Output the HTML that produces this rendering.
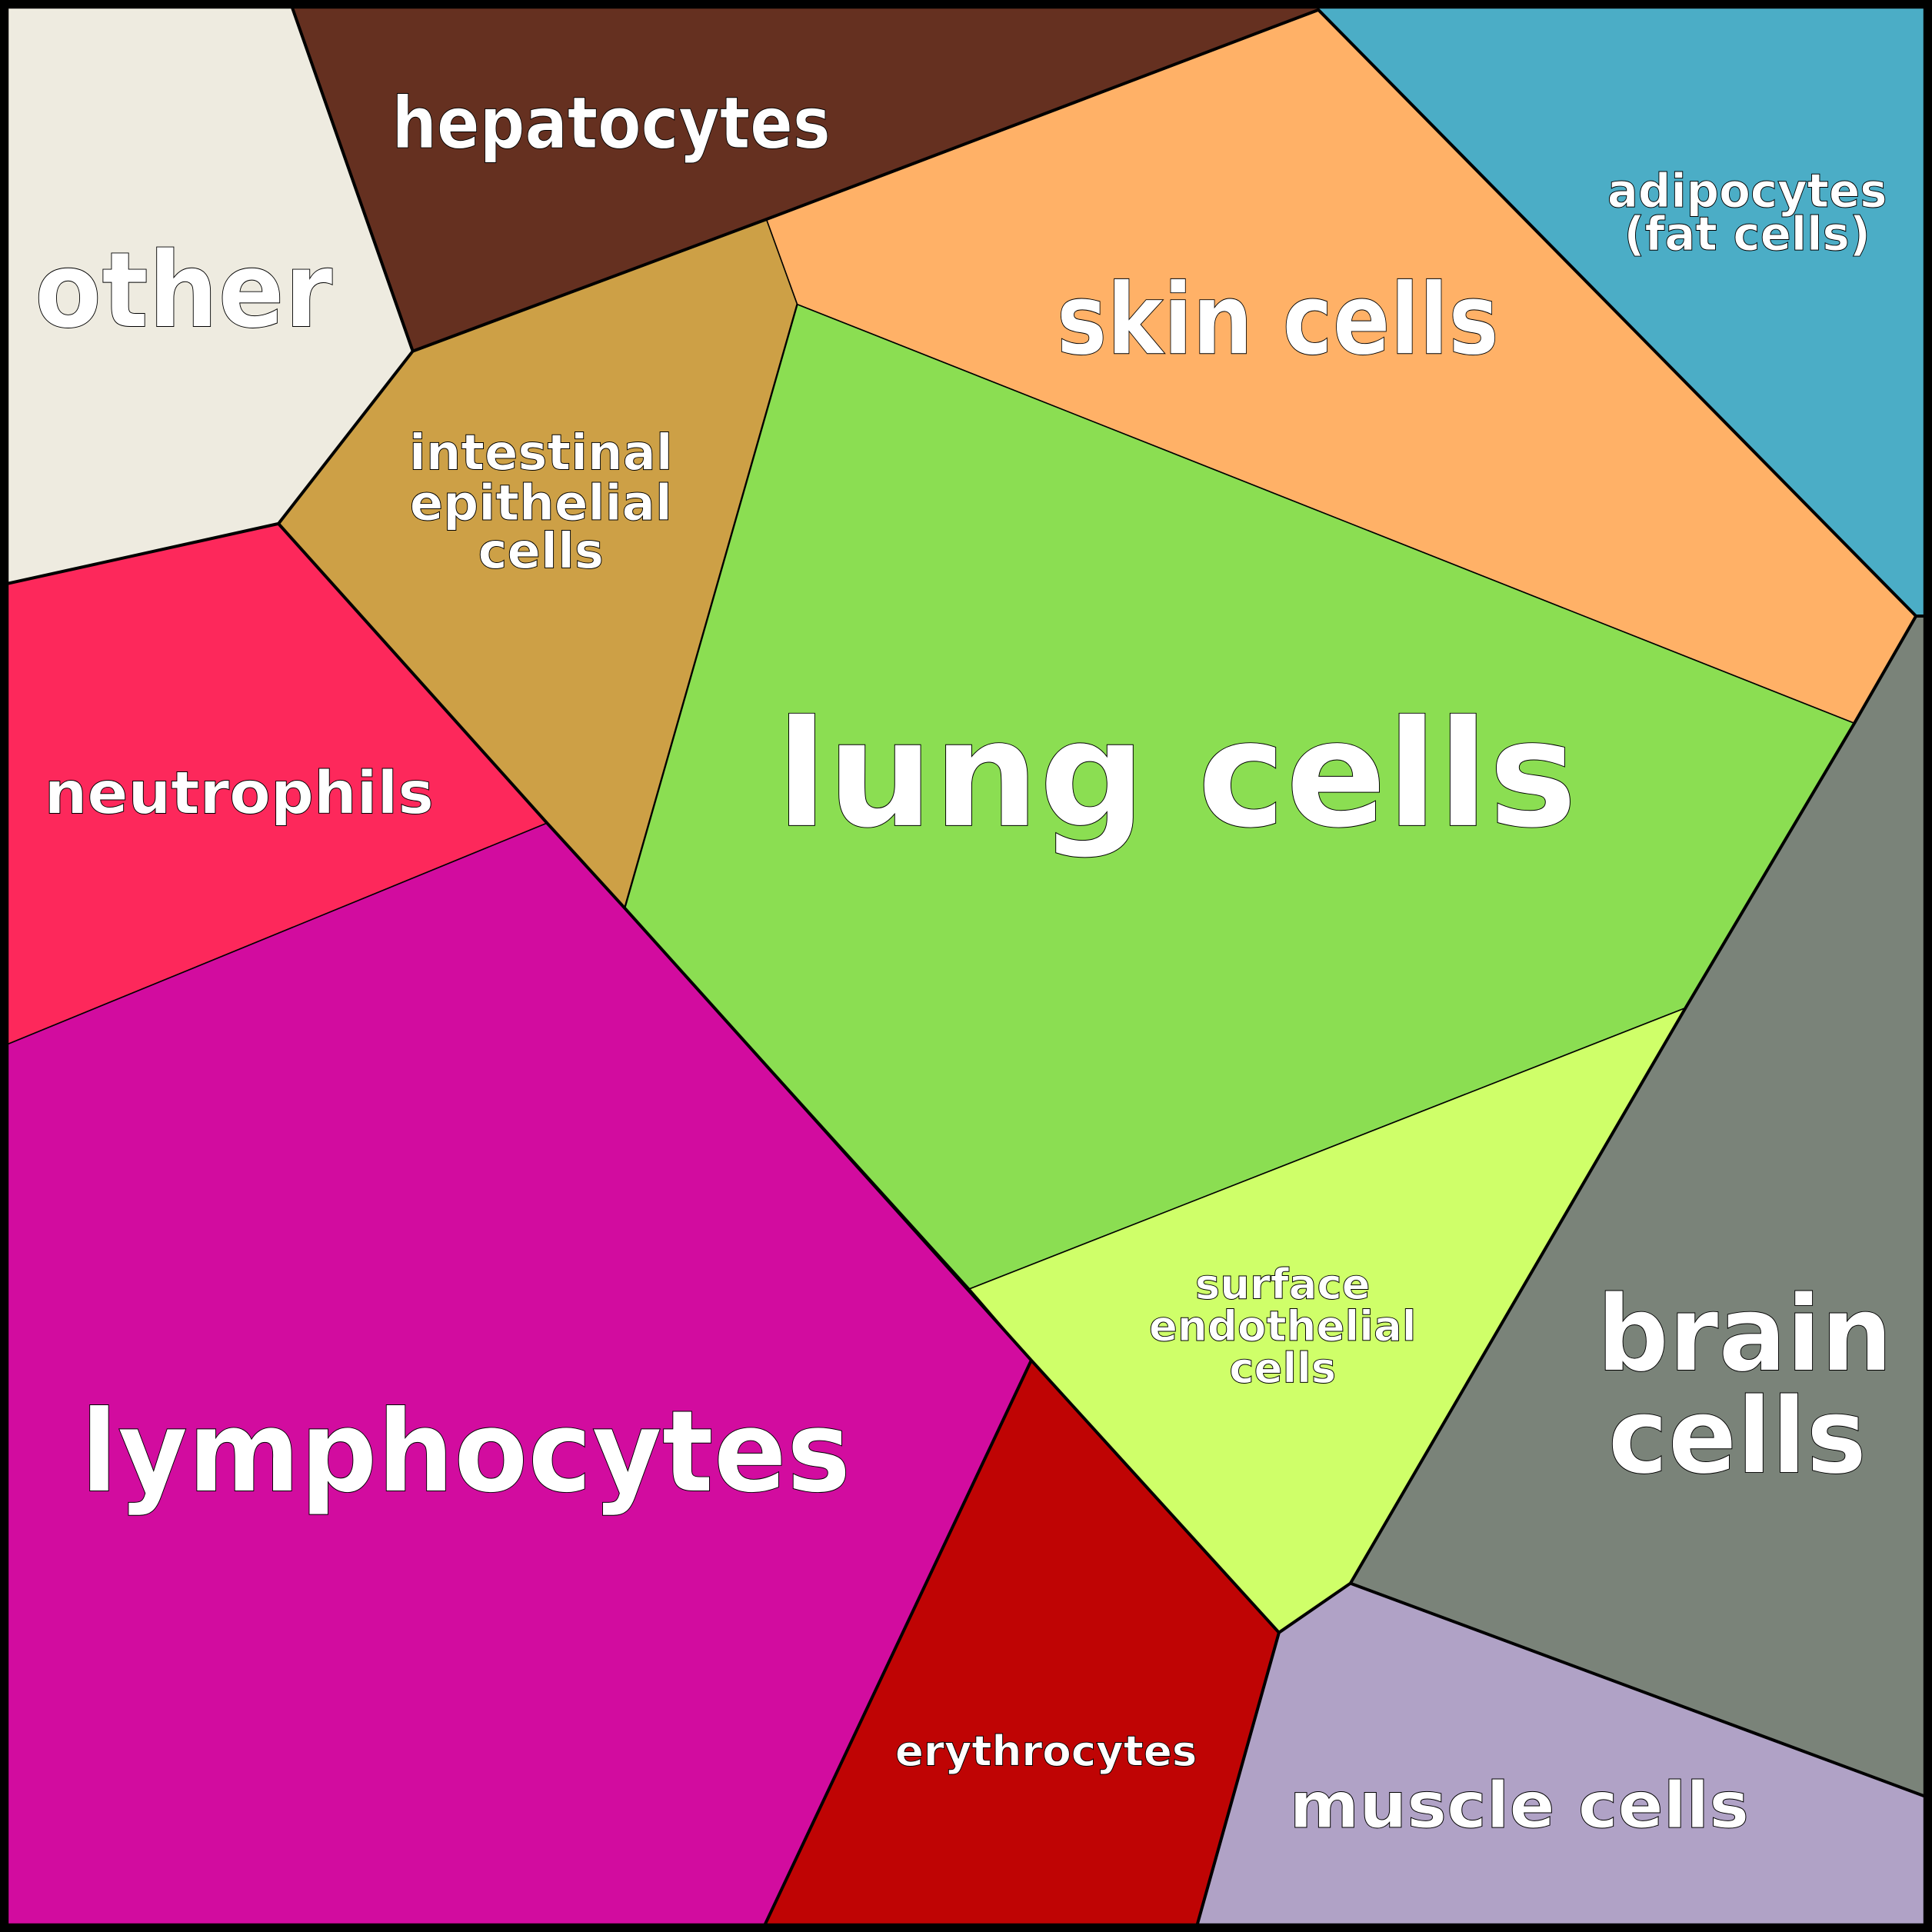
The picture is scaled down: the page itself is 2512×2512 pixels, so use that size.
<!DOCTYPE html>
<html><head><meta charset="utf-8"><style>
html,body{margin:0;padding:0;background:#fff}
svg{display:block}
text{font-family:"DejaVu Sans","Liberation Sans",sans-serif;font-weight:bold;fill:#fff;stroke:#000;stroke-width:0.6;text-anchor:middle}
</style></head><body>
<svg width="2512" height="2512" viewBox="0 0 1568 1568" xmlns="http://www.w3.org/2000/svg">
<g stroke="#000" stroke-width="1" stroke-linejoin="round">
<polygon fill="#EEEBE0" points="0,0 235,0 335,285 226,425 0,475"/>
<polygon fill="#653020" points="235,0 1070,0 1070,8 622,178 335,285"/>
<polygon fill="#4BADC6" points="1070,0 1568,0 1568,500 1555,500 1070,8"/>
<polygon fill="#FFB167" points="622,178 1070,8 1555,500 1505,587 647,247"/>
<polygon fill="#CDA046" points="335,285 622,178 647,247 507,737 444,668 226,425"/>
<polygon fill="#8BDE52" points="647,247 1505,587 1368,818 787,1046 507,737"/>
<polygon fill="#FD285B" points="0,475 226,425 444,668 0,850"/>
<polygon fill="#D20C9F" points="0,850 444,668 837,1104 618,1568 0,1568"/>
<polygon fill="#CFFF69" points="787,1046 1368,818 1096,1285 1038,1325 837,1104"/>
<polygon fill="#7A8379" points="1505,587 1555,500 1568,500 1568,1460 1096,1285 1368,818"/>
<polygon fill="#BF0404" points="837,1104 1038,1325 970,1568 618,1568"/>
<polygon fill="#B0A2C6" points="1038,1325 1096,1285 1568,1460 1568,1568 970,1568"/>
</g>
<g stroke="#000" stroke-width="2.5" fill="none" stroke-linejoin="round">
<polyline points="235,0 335,285 226,425 0,475"/>
<polyline points="335,285 622,178 1070,8 1555,500 1505,587 1368,818 1096,1285 1038,1325 970,1568"/>
<polyline points="226,425 444,668 507,737 837,1104 1038,1325"/>
<polyline points="837,1104 618,1568"/>
<polyline points="1096,1285 1568,1460"/>
<polyline points="1555,500 1568,500"/>
</g>
<line x1="507" y1="737" x2="647" y2="247" stroke="#000" stroke-width="1.5"/>
<rect x="3.5" y="3.5" width="1561" height="1561" fill="none" stroke="#000" stroke-width="7"/>
<text x="149" y="265" font-size="85" textLength="242" lengthAdjust="spacingAndGlyphs">other</text>
<text x="496" y="120" font-size="58" textLength="356" lengthAdjust="spacingAndGlyphs">hepatocytes</text>
<text x="1418" y="168" font-size="38" textLength="227" lengthAdjust="spacingAndGlyphs">adipocytes</text>
<text x="1418" y="203" font-size="38" textLength="200" lengthAdjust="spacingAndGlyphs">(fat cells)</text>
<text x="1037" y="287" font-size="80" textLength="359" lengthAdjust="spacingAndGlyphs">skin cells</text>
<text x="439" y="381" font-size="40" textLength="214" lengthAdjust="spacingAndGlyphs">intestinal</text>
<text x="439" y="422" font-size="40" textLength="213" lengthAdjust="spacingAndGlyphs">epithelial</text>
<text x="439" y="461" font-size="40">cells</text>
<text x="955" y="670" font-size="120" textLength="650" lengthAdjust="spacingAndGlyphs">lung cells</text>
<text x="194" y="660" font-size="48" textLength="316" lengthAdjust="spacingAndGlyphs">neutrophils</text>
<text x="378" y="1210" font-size="92" textLength="625" lengthAdjust="spacingAndGlyphs">lymphocytes</text>
<text x="1041" y="1054" font-size="34">surface</text>
<text x="1041" y="1088" font-size="34" textLength="217" lengthAdjust="spacingAndGlyphs">endothelial</text>
<text x="1041" y="1122" font-size="34">cells</text>
<text x="1416" y="1112" font-size="85" textLength="240" lengthAdjust="spacingAndGlyphs">brain</text>
<text x="1410" y="1195" font-size="85" textLength="210" lengthAdjust="spacingAndGlyphs">cells</text>
<text x="849" y="1433" font-size="34" textLength="245" lengthAdjust="spacingAndGlyphs">erythrocytes</text>
<text x="1233" y="1483" font-size="52" textLength="373" lengthAdjust="spacingAndGlyphs">muscle cells</text>
</svg>
</body></html>
